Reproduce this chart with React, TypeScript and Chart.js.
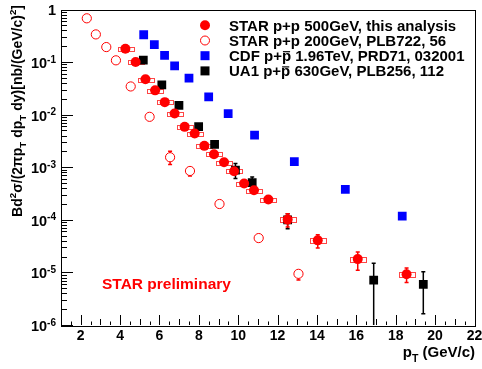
import React, { useEffect, useRef } from 'react';
import { Chart, registerables } from 'chart.js';

Chart.register(...registerables);

// ---------------- data ----------------
// STAR p+p 500 GeV (this analysis)
const star500X = [4.27, 4.79, 5.29, 5.78, 6.27, 6.77, 7.28, 7.79, 8.28, 8.77, 9.28, 9.79, 10.3, 10.8, 11.53, 12.51, 14.04, 16.07, 18.55];
const star500Y = [0.179, 0.1, 0.047, 0.029, 0.0173, 0.0105, 0.00586, 0.00438, 0.00255, 0.00177, 0.00124, 0.00084, 0.00049, 0.000365, 0.000243, 0.000101, 4.07e-5, 1.79e-5, 9.2e-6];
const star500StatHi = [null, null, null, null, null, null, null, null, null, null, null, null, null, null, 2.75e-4, 1.3e-4, 5.2e-5, 2.45e-5, 1.21e-5];
const star500StatLo = [null, null, null, null, null, null, null, null, null, null, null, null, null, null, 2.15e-4, 7.3e-5, 2.9e-5, 1.1e-5, 6.4e-6];
const star500SysFrac = [0.08, 0.08, 0.08, 0.08, 0.08, 0.08, 0.08, 0.08, 0.08, 0.08, 0.08, 0.08, 0.08, 0.08, 0.09, 0.1, 0.1, 0.1, 0.1];
const star500BinHalf = [0.4, 0.4, 0.4, 0.4, 0.4, 0.4, 0.4, 0.4, 0.4, 0.4, 0.4, 0.4, 0.4, 0.4, 0.4, 0.4, 0.4, 0.4, 0.4];

// STAR p+p 200 GeV, PLB722, 56
const star200X = [2.31, 2.77, 3.3, 3.79, 4.54, 5.5, 6.54, 7.55, 9.05, 11.04, 13.06];
const star200Y = [0.68, 0.336, 0.193, 0.108, 0.0344, 0.0091, 0.00155, 0.00085, 0.0002, 4.5e-5, 9.4e-6];
const star200StatHi = [null, null, null, null, null, null, 0.00202, 0.00095, null, null, 1.05e-5];
const star200StatLo = [null, null, null, null, null, null, 0.00113, 0.00068, null, null, 7.2e-6];

// CDF p+pbar 1.96 TeV, PRD71, 032001
const cdfX = [5.2, 5.74, 6.26, 6.77, 7.5, 8.5, 9.49, 10.83, 12.85, 15.44, 18.33];
const cdfY = [0.331, 0.214, 0.134, 0.085, 0.0496, 0.0219, 0.0105, 0.0041, 0.00128, 0.00038, 0.000118];

// UA1 p+pbar 630 GeV, PLB256, 112
const ua1X = [5.18, 6.12, 6.99, 7.99, 8.8, 9.86, 10.71, 12.51, 16.88, 19.4];
const ua1Y = [0.109, 0.037, 0.015, 0.0059, 0.00271, 0.00088, 0.00051, 0.0001, 7.1e-6, 5.9e-6];
const ua1StatHi = [null, null, null, null, null, 0.00118, 0.00065, 1.31e-4, 1.5e-5, 1.03e-5];
const ua1StatLo = [null, null, null, null, null, 0.00061, 0.0004, 6.8e-5, 1e-8, 1.63e-6];

// axes
const xMin = 1;
const xMax = 22;
const xMajorTicks = [2, 4, 6, 8, 10, 12, 14, 16, 18, 20, 22];
const xTickLabels = ['2', '4', '6', '8', '10', '12', '14', '16', '18', '20', '22'];
const yMin = 1e-6;
const yMax = 1;
const yDecades = [-6, -5, -4, -3, -2, -1, 0];
const yMinorMultipliers = [2, 3, 4, 5, 6, 7, 8, 9];

const legendLabels = [
  [{ t: 'STAR p+p 500GeV, this analysis', k: 'n' }],
  [{ t: 'STAR p+p 200GeV, PLB722, 56', k: 'n' }],
  [{ t: 'CDF p+', k: 'n' }, { t: 'p', k: 'n', o: true }, { t: ' 1.96TeV, PRD71, 032001', k: 'n' }],
  [{ t: 'UA1 p+', k: 'n' }, { t: 'p', k: 'n', o: true }, { t: ' 630GeV, PLB256, 112', k: 'n' }],
];

const yTitle = [
  { t: 'Bd', k: 'n' }, { t: '2', k: 'sup' }, { t: 'σ/(2πp', k: 'n' }, { t: 'T', k: 'sub' },
  { t: ' dp', k: 'n' }, { t: 'T', k: 'sub' }, { t: ' dy)[nb/(GeV/c)', k: 'n' }, { t: '2', k: 'sup' }, { t: ']', k: 'n' },
];
const xTitle = [{ t: 'p', k: 'n' }, { t: 'T', k: 'sub' }, { t: ' (GeV/c)', k: 'n' }];
const prelimText = 'STAR preliminary';

// ---------------- drawing helpers ----------------
const FONT = '"Liberation Sans", Arial, Helvetica, sans-serif';
const RED = 'rgb(255,0,0)';
const BLUE = 'rgb(0,0,255)';
const BLACK = 'rgb(0,0,0)';

type Seg = { t: string; k: string; o?: boolean };

function drawRich(ctx: CanvasRenderingContext2D, segs: Seg[], x: number, y: number, size: number, align: string) {
  const parts = segs.map((s) => {
    const fs = s.k === 'n' ? size : size * 0.7;
    ctx.font = `bold ${fs}px ${FONT}`;
    return { ...s, fs, mw: ctx.measureText(s.t).width };
  });
  const w = parts.reduce((a, p) => a + p.mw, 0);
  let cx = align === 'right' ? x - w : align === 'center' ? x - w / 2 : x;
  ctx.textAlign = 'left';
  ctx.textBaseline = 'alphabetic';
  for (const p of parts) {
    ctx.font = `bold ${p.fs}px ${FONT}`;
    const dy = p.k === 'sup' ? -size * 0.42 : p.k === 'sub' ? size * 0.3 : 0;
    ctx.fillText(p.t, cx, y + dy);
    if (p.o) {
      ctx.save();
      ctx.strokeStyle = ctx.fillStyle as string;
      ctx.lineWidth = 1.2;
      ctx.beginPath();
      ctx.moveTo(cx + 1, y - size * 0.62);
      ctx.lineTo(cx + p.mw - 1, y - size * 0.62);
      ctx.stroke();
      ctx.restore();
    }
    cx += p.mw;
  }
  return w;
}

function drawVBars(chart: any, xs: number[], his: any[], los: any[], color: string) {
  const ctx = chart.ctx;
  const xs_ = chart.scales.x;
  const ys_ = chart.scales.y;
  const ca = chart.chartArea;
  ctx.save();
  ctx.strokeStyle = color;
  ctx.lineWidth = 1.5;
  for (let i = 0; i < xs.length; i++) {
    if (his[i] == null || los[i] == null) continue;
    const px = xs_.getPixelForValue(xs[i]);
    const pHi = Math.max(ca.top, ys_.getPixelForValue(his[i]));
    const pLo = Math.min(ca.bottom, ys_.getPixelForValue(los[i]));
    ctx.beginPath();
    ctx.moveTo(px, pHi);
    ctx.lineTo(px, pLo);
    ctx.moveTo(px - 2, pHi);
    ctx.lineTo(px + 2, pHi);
    if (pLo < ca.bottom) {
      ctx.moveTo(px - 2, pLo);
      ctx.lineTo(px + 2, pLo);
    }
    ctx.stroke();
  }
  ctx.restore();
}

function drawSysBoxes(chart: any) {
  const ctx = chart.ctx;
  const sx = chart.scales.x;
  const sy = chart.scales.y;
  ctx.save();
  ctx.strokeStyle = 'rgb(255,70,70)';
  ctx.lineWidth = 1;
  for (let i = 0; i < star500X.length; i++) {
    const x0 = sx.getPixelForValue(star500X[i] - star500BinHalf[i]);
    const x1 = sx.getPixelForValue(star500X[i] + star500BinHalf[i]);
    const y0 = sy.getPixelForValue(star500Y[i] * (1 + star500SysFrac[i]));
    const y1 = sy.getPixelForValue(star500Y[i] * (1 - star500SysFrac[i]));
    ctx.strokeRect(Math.round(x0) + 0.5, Math.round(y0) + 0.5, Math.round(x1 - x0), Math.max(2, Math.round(y1 - y0)));
  }
  ctx.restore();
}

const rootPlugin = {
  id: 'rootStyle',
  beforeDatasetsDraw(chart: any) {
    drawSysBoxes(chart);
    drawVBars(chart, ua1X, ua1StatHi, ua1StatLo, BLACK);
    drawVBars(chart, star200X, star200StatHi, star200StatLo, RED);
    drawVBars(chart, star500X, star500StatHi, star500StatLo, RED);
  },
  afterDatasetsDraw(chart: any) {
    const ctx: CanvasRenderingContext2D = chart.ctx;
    const ca = chart.chartArea;
    const sx = chart.scales.x;
    const sy = chart.scales.y;
    ctx.save();
    // frame
    ctx.strokeStyle = BLACK;
    ctx.lineWidth = 1;
    ctx.strokeRect(Math.round(ca.left) + 0.5, Math.round(ca.top) + 0.5, Math.round(ca.right - ca.left), Math.round(ca.bottom - ca.top));

    // x ticks (inward)
    ctx.beginPath();
    for (let v = xMin; v <= xMax + 1e-9; v += 0.5) {
      const px = Math.round(sx.getPixelForValue(v)) + 0.5;
      const isMajor = xMajorTicks.includes(v);
      const isMid = !isMajor && Math.abs(v - Math.round(v)) < 1e-9;
      const len = isMajor ? 10 : isMid ? 6 : 3.5;
      ctx.moveTo(px, ca.bottom);
      ctx.lineTo(px, ca.bottom - len);
    }
    // y ticks
    for (const d of yDecades) {
      const py = Math.round(sy.getPixelForValue(Math.pow(10, d))) + 0.5;
      ctx.moveTo(ca.left, py);
      ctx.lineTo(ca.left + 12, py);
      if (d < 0) {
        for (const m of yMinorMultipliers) {
          const pm = Math.round(sy.getPixelForValue(m * Math.pow(10, d))) + 0.5;
          ctx.moveTo(ca.left, pm);
          ctx.lineTo(ca.left + 6, pm);
        }
      }
    }
    ctx.stroke();

    // x labels
    ctx.fillStyle = BLACK;
    ctx.font = `bold 14px ${FONT}`;
    ctx.textAlign = 'center';
    ctx.textBaseline = 'alphabetic';
    xMajorTicks.forEach((v, i) => {
      ctx.fillText(xTickLabels[i], sx.getPixelForValue(v), ca.bottom + 15);
    });

    // y labels
    for (const d of yDecades) {
      const py = sy.getPixelForValue(Math.pow(10, d));
      if (d === 0) {
        drawRich(ctx, [{ t: '1', k: 'n' }], 56, py + 5, 14.5, 'right');
      } else {
        ctx.font = `bold 14.5px ${FONT}`;
        const w10 = ctx.measureText('10').width;
        ctx.font = `bold 10px ${FONT}`;
        const wsup = ctx.measureText(String(d)).width;
        const start = 56 - w10 - wsup;
        ctx.font = `bold 14.5px ${FONT}`;
        ctx.textAlign = 'left';
        ctx.fillText('10', start, py + 6);
        ctx.font = `bold 10px ${FONT}`;
        ctx.fillText(String(d), start + w10, py + 0.5);
      }
    }

    // axis titles
    drawRich(ctx, xTitle, 475, 357, 15, 'right');
    ctx.save();
    ctx.translate(22, 5);
    ctx.rotate(-Math.PI / 2);
    drawRich(ctx, yTitle, 0, 0, 14, 'right');
    ctx.restore();

    // legend
    const rowBase = [30.6, 45.8, 61.0, 76.2];
    const mx = 205;
    rowBase.forEach((b, i) => {
      const my = b - 5.3;
      ctx.beginPath();
      if (i === 0) {
        ctx.fillStyle = RED;
        ctx.arc(mx, my, 5, 0, Math.PI * 2);
        ctx.fill();
      } else if (i === 1) {
        ctx.strokeStyle = RED;
        ctx.lineWidth = 1;
        ctx.arc(mx, my, 4.5, 0, Math.PI * 2);
        ctx.stroke();
      } else {
        ctx.fillStyle = i === 2 ? BLUE : BLACK;
        ctx.fillRect(mx - 4.5, my - 4.5, 9, 9);
      }
      ctx.fillStyle = BLACK;
      drawRich(ctx, legendLabels[i] as Seg[], 229, b, 15, 'left');
    });

    // STAR preliminary
    ctx.fillStyle = RED;
    ctx.font = `bold 15.5px ${FONT}`;
    ctx.textAlign = 'left';
    ctx.fillText(prelimText, 102, 288.5);
    ctx.restore();
  },
};

function toPts(xs: number[], ys: number[]) {
  return xs.map((x, i) => ({ x, y: ys[i] }));
}

export default function App() {
  const ref = useRef<HTMLCanvasElement>(null);
  useEffect(() => {
    if (!ref.current) return;
    const chart = new Chart(ref.current, {
      type: 'scatter',
      data: {
        datasets: [
          {
            label: 'STAR p+p 500GeV, this analysis',
            data: toPts(star500X, star500Y),
            pointStyle: 'circle',
            pointRadius: 5,
            backgroundColor: RED,
            borderColor: RED,
            borderWidth: 0,
          },
          {
            label: 'STAR p+p 200GeV, PLB722, 56',
            data: toPts(star200X, star200Y),
            pointStyle: 'circle',
            pointRadius: 4.6,
            backgroundColor: 'rgba(255,255,255,1)',
            borderColor: RED,
            borderWidth: 1,
          },
          {
            label: 'CDF p+pbar 1.96TeV, PRD71, 032001',
            data: toPts(cdfX, cdfY),
            pointStyle: 'rect',
            pointRadius: 6.2,
            backgroundColor: BLUE,
            borderColor: BLUE,
            borderWidth: 0,
          },
          {
            label: 'UA1 p+pbar 630GeV, PLB256, 112',
            data: toPts(ua1X, ua1Y),
            pointStyle: 'rect',
            pointRadius: 6.2,
            backgroundColor: BLACK,
            borderColor: BLACK,
            borderWidth: 0,
          },
        ],
      },
      options: {
        animation: false,
        responsive: false,
        maintainAspectRatio: false,
        devicePixelRatio: 1,
        layout: { padding: { left: 61, right: 7.5, top: 9.5, bottom: 44 } },
        scales: {
          x: { type: 'linear', min: xMin, max: xMax, display: false },
          y: { type: 'logarithmic', min: yMin, max: yMax, display: false },
        },
        plugins: {
          legend: { display: false },
          tooltip: { enabled: false },
        },
      },
      plugins: [rootPlugin],
    } as any);
    return () => chart.destroy();
  }, []);
  return (
    <div style={{ position: 'fixed', left: 0, top: 0, width: 482, height: 369, background: '#fff' }}>
      <canvas ref={ref} width={482} height={369} style={{ display: 'block' }} />
    </div>
  );
}
